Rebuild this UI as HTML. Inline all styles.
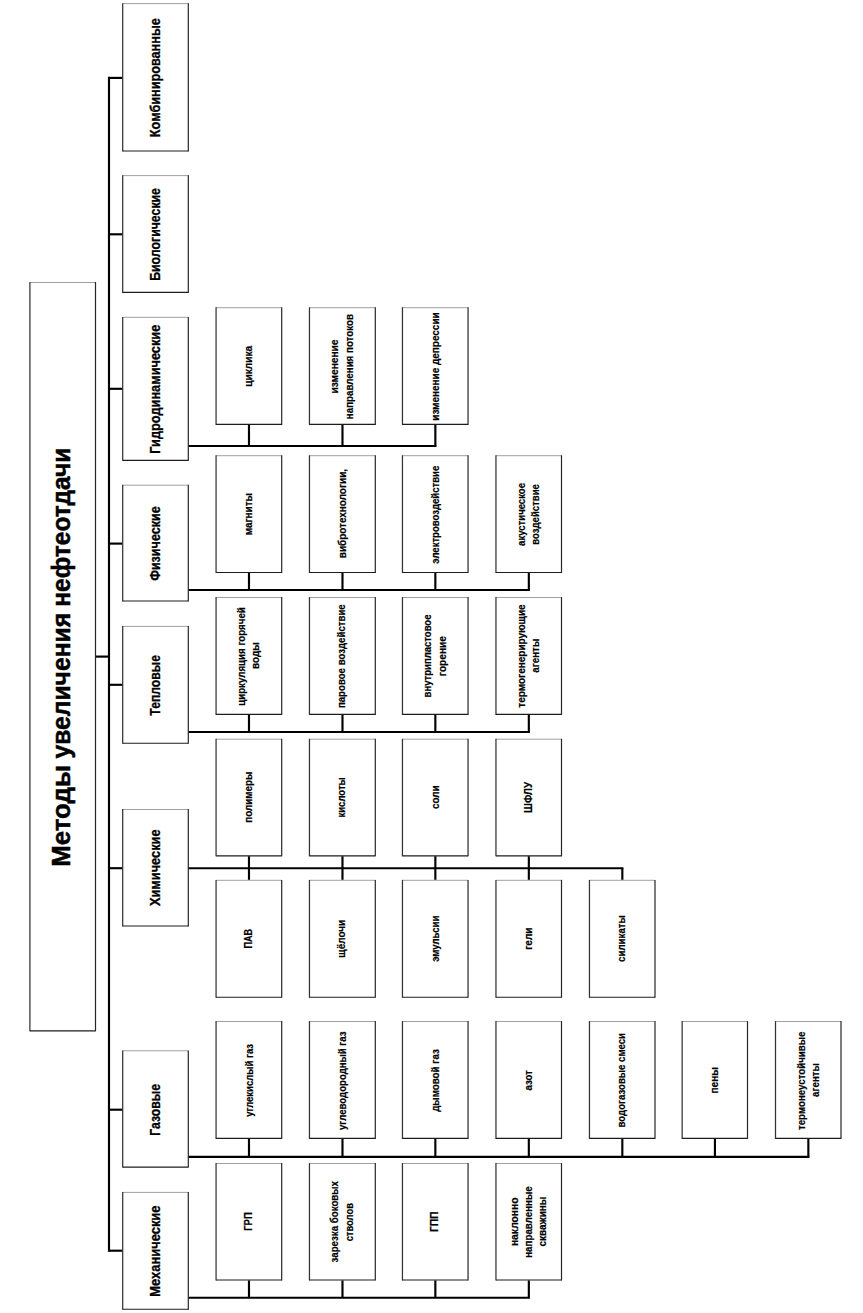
<!DOCTYPE html>
<html lang="ru">
<head>
<meta charset="utf-8">
<title>Методы увеличения нефтеотдачи</title>
<style>
html,body{margin:0;padding:0;background:#fff;}
body{width:863px;height:1313px;overflow:hidden;}
svg{display:block;}
text{font-family:"Liberation Sans",sans-serif;fill:#000;}
.tt{font-size:26.2px;font-weight:bold;stroke:#000;stroke-width:0.5px;}
.ct{font-size:14.2px;font-weight:bold;stroke:#000;stroke-width:0.3px;}
.st{font-size:10.5px;font-weight:bold;stroke:#000;stroke-width:0.2px;}
path{fill:none;}
</style>
</head>
<body>
<svg width="863" height="1313" viewBox="0 0 863 1313">
<rect x="0" y="0" width="863" height="1313" fill="#fff"/>
<path d="M29.90 282.50H95.50" stroke="#a0a0a0" stroke-width="1.0"/>
<path d="M29.90 282.10V1031.30" stroke="#333" stroke-width="1.25"/>
<path d="M95.50 282.10V1031.30" stroke="#262626" stroke-width="1.2"/>
<path d="M29.90 1030.80H95.50" stroke="#1c1c1c" stroke-width="1.15"/>
<text class="tt" transform="translate(70.30 866.73) rotate(-90) scale(0.9855 1)">Методы</text>
<text class="tt" transform="translate(70.30 758.49) rotate(-90) scale(0.9420 1)">увеличения</text>
<text class="tt" transform="translate(70.30 606.71) rotate(-90) scale(0.9351 1)">нефтеотдачи</text>
<path d="M109.00 76.83L109.00 1251.78" stroke="#000" stroke-width="2.15"/>
<path d="M96.00 656.60L109.00 656.60" stroke="#000" stroke-width="2.15"/>
<path d="M109.00 77.90L122.30 77.90" stroke="#000" stroke-width="2.15"/>
<path d="M122.70 3.60H188.30" stroke="#a0a0a0" stroke-width="1.0"/>
<path d="M122.70 3.20V151.50" stroke="#333" stroke-width="1.25"/>
<path d="M188.30 3.20V151.50" stroke="#262626" stroke-width="1.2"/>
<path d="M122.70 151.00H188.30" stroke="#1c1c1c" stroke-width="1.15"/>
<text class="ct" transform="translate(160.20 137.15) rotate(-90) scale(0.8937 1)">Комбинированные</text>
<path d="M109.00 234.30L122.30 234.30" stroke="#000" stroke-width="2.15"/>
<path d="M122.70 175.60H188.30" stroke="#a0a0a0" stroke-width="1.0"/>
<path d="M122.70 175.20V292.90" stroke="#333" stroke-width="1.25"/>
<path d="M188.30 175.20V292.90" stroke="#262626" stroke-width="1.2"/>
<path d="M122.70 292.40H188.30" stroke="#1c1c1c" stroke-width="1.15"/>
<text class="ct" transform="translate(160.20 280.82) rotate(-90) scale(0.8684 1)">Биологические</text>
<path d="M109.00 388.80L122.30 388.80" stroke="#000" stroke-width="2.15"/>
<path d="M122.70 317.30H188.30" stroke="#a0a0a0" stroke-width="1.0"/>
<path d="M122.70 316.90V460.80" stroke="#333" stroke-width="1.25"/>
<path d="M188.30 316.90V460.80" stroke="#262626" stroke-width="1.2"/>
<path d="M122.70 460.30H188.30" stroke="#1c1c1c" stroke-width="1.15"/>
<text class="ct" transform="translate(160.20 453.85) rotate(-90) scale(0.8990 1)">Гидродинамические</text>
<path d="M109.00 543.60L122.30 543.60" stroke="#000" stroke-width="2.15"/>
<path d="M122.70 485.20H188.30" stroke="#a0a0a0" stroke-width="1.0"/>
<path d="M122.70 484.80V601.50" stroke="#333" stroke-width="1.25"/>
<path d="M188.30 484.80V601.50" stroke="#262626" stroke-width="1.2"/>
<path d="M122.70 601.00H188.30" stroke="#1c1c1c" stroke-width="1.15"/>
<text class="ct" transform="translate(160.20 580.84) rotate(-90) scale(0.8858 1)">Физические</text>
<path d="M109.00 684.80L122.30 684.80" stroke="#000" stroke-width="2.15"/>
<path d="M122.70 626.40H188.30" stroke="#a0a0a0" stroke-width="1.0"/>
<path d="M122.70 626.00V743.70" stroke="#333" stroke-width="1.25"/>
<path d="M188.30 626.00V743.70" stroke="#262626" stroke-width="1.2"/>
<path d="M122.70 743.20H188.30" stroke="#1c1c1c" stroke-width="1.15"/>
<text class="ct" transform="translate(160.20 715.64) rotate(-90) scale(0.8569 1)">Тепловые</text>
<path d="M109.00 868.20L122.30 868.20" stroke="#000" stroke-width="2.15"/>
<path d="M122.70 809.50H188.30" stroke="#a0a0a0" stroke-width="1.0"/>
<path d="M122.70 809.10V926.50" stroke="#333" stroke-width="1.25"/>
<path d="M188.30 809.10V926.50" stroke="#262626" stroke-width="1.2"/>
<path d="M122.70 926.00H188.30" stroke="#1c1c1c" stroke-width="1.15"/>
<text class="ct" transform="translate(160.20 906.11) rotate(-90) scale(0.9019 1)">Химические</text>
<path d="M109.00 1109.70L122.30 1109.70" stroke="#000" stroke-width="2.15"/>
<path d="M122.70 1050.80H188.30" stroke="#a0a0a0" stroke-width="1.0"/>
<path d="M122.70 1050.40V1167.60" stroke="#333" stroke-width="1.25"/>
<path d="M188.30 1050.40V1167.60" stroke="#262626" stroke-width="1.2"/>
<path d="M122.70 1167.10H188.30" stroke="#1c1c1c" stroke-width="1.15"/>
<text class="ct" transform="translate(160.20 1135.82) rotate(-90) scale(0.8644 1)">Газовые</text>
<path d="M109.00 1250.70L122.30 1250.70" stroke="#000" stroke-width="2.15"/>
<path d="M122.70 1192.40H188.30" stroke="#a0a0a0" stroke-width="1.0"/>
<path d="M122.70 1192.00V1309.70" stroke="#333" stroke-width="1.25"/>
<path d="M188.30 1192.00V1309.70" stroke="#262626" stroke-width="1.2"/>
<path d="M122.70 1309.20H188.30" stroke="#1c1c1c" stroke-width="1.15"/>
<text class="ct" transform="translate(160.20 1296.76) rotate(-90) scale(0.9106 1)">Механические</text>
<path d="M248.98 424.80L248.98 446.00" stroke="#000" stroke-width="2.15"/>
<path d="M342.48 424.80L342.48 446.00" stroke="#000" stroke-width="2.15"/>
<path d="M435.35 424.80L435.35 446.00" stroke="#000" stroke-width="2.15"/>
<path d="M188.70 446.00L436.43 446.00" stroke="#000" stroke-width="2.15"/>
<path d="M248.98 572.90L248.98 589.95" stroke="#000" stroke-width="2.15"/>
<path d="M342.48 572.90L342.48 589.95" stroke="#000" stroke-width="2.15"/>
<path d="M435.35 572.90L435.35 589.95" stroke="#000" stroke-width="2.15"/>
<path d="M528.83 572.90L528.83 589.95" stroke="#000" stroke-width="2.15"/>
<path d="M188.70 589.95L529.90 589.95" stroke="#000" stroke-width="2.15"/>
<path d="M248.98 714.80L248.98 732.00" stroke="#000" stroke-width="2.15"/>
<path d="M342.48 714.80L342.48 732.00" stroke="#000" stroke-width="2.15"/>
<path d="M435.35 714.80L435.35 732.00" stroke="#000" stroke-width="2.15"/>
<path d="M528.83 714.80L528.83 732.00" stroke="#000" stroke-width="2.15"/>
<path d="M188.70 732.00L529.90 732.00" stroke="#000" stroke-width="2.15"/>
<path d="M248.98 1138.80L248.98 1156.90" stroke="#000" stroke-width="2.15"/>
<path d="M342.48 1138.80L342.48 1156.90" stroke="#000" stroke-width="2.15"/>
<path d="M435.35 1138.80L435.35 1156.90" stroke="#000" stroke-width="2.15"/>
<path d="M528.83 1138.80L528.83 1156.90" stroke="#000" stroke-width="2.15"/>
<path d="M622.33 1138.80L622.33 1156.90" stroke="#000" stroke-width="2.15"/>
<path d="M714.93 1138.80L714.93 1156.90" stroke="#000" stroke-width="2.15"/>
<path d="M808.35 1138.80L808.35 1156.90" stroke="#000" stroke-width="2.15"/>
<path d="M188.70 1156.90L809.43 1156.90" stroke="#000" stroke-width="2.15"/>
<path d="M248.98 1280.40L248.98 1297.70" stroke="#000" stroke-width="2.15"/>
<path d="M342.48 1280.40L342.48 1297.70" stroke="#000" stroke-width="2.15"/>
<path d="M435.35 1280.40L435.35 1297.70" stroke="#000" stroke-width="2.15"/>
<path d="M528.83 1280.40L528.83 1297.70" stroke="#000" stroke-width="2.15"/>
<path d="M188.70 1297.70L529.90 1297.70" stroke="#000" stroke-width="2.15"/>
<path d="M248.98 856.20L248.98 868.20" stroke="#000" stroke-width="2.15"/>
<path d="M342.48 856.20L342.48 868.20" stroke="#000" stroke-width="2.15"/>
<path d="M435.35 856.20L435.35 868.20" stroke="#000" stroke-width="2.15"/>
<path d="M528.83 856.20L528.83 868.20" stroke="#000" stroke-width="2.15"/>
<path d="M248.98 868.20L248.98 879.90" stroke="#000" stroke-width="2.15"/>
<path d="M342.48 868.20L342.48 879.90" stroke="#000" stroke-width="2.15"/>
<path d="M435.35 868.20L435.35 879.90" stroke="#000" stroke-width="2.15"/>
<path d="M528.83 868.20L528.83 879.90" stroke="#000" stroke-width="2.15"/>
<path d="M622.33 868.20L622.33 879.90" stroke="#000" stroke-width="2.15"/>
<path d="M188.70 868.20L623.40 868.20" stroke="#000" stroke-width="2.15"/>
<path d="M216.07 307.70H281.70" stroke="#a0a0a0" stroke-width="1.0"/>
<path d="M216.07 307.30V424.90" stroke="#333" stroke-width="1.25"/>
<path d="M281.70 307.30V424.90" stroke="#262626" stroke-width="1.2"/>
<path d="M216.07 424.40H281.70" stroke="#1c1c1c" stroke-width="1.15"/>
<text class="st" transform="translate(252.40 386.81) rotate(-90) scale(0.9672 1)">циклика</text>
<path d="M309.45 307.70H375.30" stroke="#a0a0a0" stroke-width="1.0"/>
<path d="M309.45 307.30V424.90" stroke="#333" stroke-width="1.25"/>
<path d="M375.30 307.30V424.90" stroke="#262626" stroke-width="1.2"/>
<path d="M309.45 424.40H375.30" stroke="#1c1c1c" stroke-width="1.15"/>
<text class="st" transform="translate(338.40 393.50) rotate(-90) scale(0.9671 1)">изменение</text>
<text class="st" transform="translate(353.40 419.18) rotate(-90) scale(0.9293 1)">направления потоков</text>
<path d="M402.45 307.70H468.05" stroke="#a0a0a0" stroke-width="1.0"/>
<path d="M402.45 307.30V424.90" stroke="#333" stroke-width="1.25"/>
<path d="M468.05 307.30V424.90" stroke="#262626" stroke-width="1.2"/>
<path d="M402.45 424.40H468.05" stroke="#1c1c1c" stroke-width="1.15"/>
<text class="st" transform="translate(438.50 420.69) rotate(-90) scale(0.9492 1)">изменение депрессии</text>
<path d="M216.07 455.70H281.70" stroke="#a0a0a0" stroke-width="1.0"/>
<path d="M216.07 455.30V573.00" stroke="#333" stroke-width="1.25"/>
<path d="M281.70 455.30V573.00" stroke="#262626" stroke-width="1.2"/>
<path d="M216.07 572.50H281.70" stroke="#1c1c1c" stroke-width="1.15"/>
<text class="st" transform="translate(252.40 535.29) rotate(-90) scale(0.9466 1)">магниты</text>
<path d="M309.45 455.70H375.30" stroke="#a0a0a0" stroke-width="1.0"/>
<path d="M309.45 455.30V573.00" stroke="#333" stroke-width="1.25"/>
<path d="M375.30 455.30V573.00" stroke="#262626" stroke-width="1.2"/>
<path d="M309.45 572.50H375.30" stroke="#1c1c1c" stroke-width="1.15"/>
<text class="st" transform="translate(345.60 558.19) rotate(-90) scale(0.9461 1)">вибротехнологии,</text>
<path d="M402.45 455.70H468.05" stroke="#a0a0a0" stroke-width="1.0"/>
<path d="M402.45 455.30V573.00" stroke="#333" stroke-width="1.25"/>
<path d="M468.05 455.30V573.00" stroke="#262626" stroke-width="1.2"/>
<path d="M402.45 572.50H468.05" stroke="#1c1c1c" stroke-width="1.15"/>
<text class="st" transform="translate(438.70 563.64) rotate(-90) scale(0.9110 1)">электровоздействие</text>
<path d="M495.95 455.70H561.50" stroke="#a0a0a0" stroke-width="1.0"/>
<path d="M495.95 455.30V573.00" stroke="#333" stroke-width="1.25"/>
<path d="M561.50 455.30V573.00" stroke="#262626" stroke-width="1.2"/>
<path d="M495.95 572.50H561.50" stroke="#1c1c1c" stroke-width="1.15"/>
<text class="st" transform="translate(524.60 545.88) rotate(-90) scale(0.9103 1)">акустическое</text>
<text class="st" transform="translate(539.20 544.67) rotate(-90) scale(0.9119 1)">воздействие</text>
<path d="M216.07 597.50H281.70" stroke="#a0a0a0" stroke-width="1.0"/>
<path d="M216.07 597.10V714.90" stroke="#333" stroke-width="1.25"/>
<path d="M281.70 597.10V714.90" stroke="#262626" stroke-width="1.2"/>
<path d="M216.07 714.40H281.70" stroke="#1c1c1c" stroke-width="1.15"/>
<text class="st" transform="translate(245.10 705.78) rotate(-90) scale(0.9277 1)">циркуляция горячей</text>
<text class="st" transform="translate(259.30 668.89) rotate(-90) scale(0.9469 1)">воды</text>
<path d="M309.45 597.50H375.30" stroke="#a0a0a0" stroke-width="1.0"/>
<path d="M309.45 597.10V714.90" stroke="#333" stroke-width="1.25"/>
<path d="M375.30 597.10V714.90" stroke="#262626" stroke-width="1.2"/>
<path d="M309.45 714.40H375.30" stroke="#1c1c1c" stroke-width="1.15"/>
<text class="st" transform="translate(345.40 708.07) rotate(-90) scale(0.9188 1)">паровое воздействие</text>
<path d="M402.45 597.50H468.05" stroke="#a0a0a0" stroke-width="1.0"/>
<path d="M402.45 597.10V714.90" stroke="#333" stroke-width="1.25"/>
<path d="M468.05 597.10V714.90" stroke="#262626" stroke-width="1.2"/>
<path d="M402.45 714.40H468.05" stroke="#1c1c1c" stroke-width="1.15"/>
<text class="st" transform="translate(431.10 697.47) rotate(-90) scale(0.9082 1)">внутрипластовое</text>
<text class="st" transform="translate(445.70 676.21) rotate(-90) scale(0.9659 1)">горение</text>
<path d="M495.95 597.50H561.50" stroke="#a0a0a0" stroke-width="1.0"/>
<path d="M495.95 597.10V714.90" stroke="#333" stroke-width="1.25"/>
<path d="M561.50 597.10V714.90" stroke="#262626" stroke-width="1.2"/>
<path d="M495.95 714.40H561.50" stroke="#1c1c1c" stroke-width="1.15"/>
<text class="st" transform="translate(524.80 707.68) rotate(-90) scale(0.9506 1)">термогенерирующие</text>
<text class="st" transform="translate(539.20 672.69) rotate(-90) scale(0.9305 1)">агенты</text>
<path d="M216.07 739.20H281.70" stroke="#a0a0a0" stroke-width="1.0"/>
<path d="M216.07 738.80V856.30" stroke="#333" stroke-width="1.25"/>
<path d="M281.70 738.80V856.30" stroke="#262626" stroke-width="1.2"/>
<path d="M216.07 855.80H281.70" stroke="#1c1c1c" stroke-width="1.15"/>
<text class="st" transform="translate(252.40 822.79) rotate(-90) scale(0.9382 1)">полимеры</text>
<path d="M309.45 739.20H375.30" stroke="#a0a0a0" stroke-width="1.0"/>
<path d="M309.45 738.80V856.30" stroke="#333" stroke-width="1.25"/>
<path d="M375.30 738.80V856.30" stroke="#262626" stroke-width="1.2"/>
<path d="M309.45 855.80H375.30" stroke="#1c1c1c" stroke-width="1.15"/>
<text class="st" transform="translate(345.40 817.56) rotate(-90) scale(0.9103 1)">кислоты</text>
<path d="M402.45 739.20H468.05" stroke="#a0a0a0" stroke-width="1.0"/>
<path d="M402.45 738.80V856.30" stroke="#333" stroke-width="1.25"/>
<path d="M468.05 738.80V856.30" stroke="#262626" stroke-width="1.2"/>
<path d="M402.45 855.80H468.05" stroke="#1c1c1c" stroke-width="1.15"/>
<text class="st" transform="translate(438.80 808.99) rotate(-90) scale(0.9406 1)">соли</text>
<path d="M495.95 739.20H561.50" stroke="#a0a0a0" stroke-width="1.0"/>
<path d="M495.95 738.80V856.30" stroke="#333" stroke-width="1.25"/>
<path d="M561.50 738.80V856.30" stroke="#262626" stroke-width="1.2"/>
<path d="M495.95 855.80H561.50" stroke="#1c1c1c" stroke-width="1.15"/>
<text class="st" transform="translate(532.10 812.96) rotate(-90) scale(0.9419 1)">ШФЛУ</text>
<path d="M216.07 880.30H281.70" stroke="#a0a0a0" stroke-width="1.0"/>
<path d="M216.07 879.90V997.70" stroke="#333" stroke-width="1.25"/>
<path d="M281.70 879.90V997.70" stroke="#262626" stroke-width="1.2"/>
<path d="M216.07 997.20H281.70" stroke="#1c1c1c" stroke-width="1.15"/>
<text class="st" transform="translate(252.40 948.61) rotate(-90) scale(0.8684 1)">ПАВ</text>
<path d="M309.45 880.30H375.30" stroke="#a0a0a0" stroke-width="1.0"/>
<path d="M309.45 879.90V997.70" stroke="#333" stroke-width="1.25"/>
<path d="M375.30 879.90V997.70" stroke="#262626" stroke-width="1.2"/>
<path d="M309.45 997.20H375.30" stroke="#1c1c1c" stroke-width="1.15"/>
<text class="st" transform="translate(345.40 957.70) rotate(-90) scale(0.9493 1)">щёлочи</text>
<path d="M402.45 880.30H468.05" stroke="#a0a0a0" stroke-width="1.0"/>
<path d="M402.45 879.90V997.70" stroke="#333" stroke-width="1.25"/>
<path d="M468.05 879.90V997.70" stroke="#262626" stroke-width="1.2"/>
<path d="M402.45 997.20H468.05" stroke="#1c1c1c" stroke-width="1.15"/>
<text class="st" transform="translate(438.80 961.84) rotate(-90) scale(0.9088 1)">эмульсии</text>
<path d="M495.95 880.30H561.50" stroke="#a0a0a0" stroke-width="1.0"/>
<path d="M495.95 879.90V997.70" stroke="#333" stroke-width="1.25"/>
<path d="M561.50 879.90V997.70" stroke="#262626" stroke-width="1.2"/>
<path d="M495.95 997.20H561.50" stroke="#1c1c1c" stroke-width="1.15"/>
<text class="st" transform="translate(532.00 949.80) rotate(-90) scale(0.9554 1)">гели</text>
<path d="M589.45 880.30H655.00" stroke="#a0a0a0" stroke-width="1.0"/>
<path d="M589.45 879.90V997.70" stroke="#333" stroke-width="1.25"/>
<path d="M655.00 879.90V997.70" stroke="#262626" stroke-width="1.2"/>
<path d="M589.45 997.20H655.00" stroke="#1c1c1c" stroke-width="1.15"/>
<text class="st" transform="translate(625.00 961.98) rotate(-90) scale(0.9276 1)">силикаты</text>
<path d="M216.07 1021.50H281.70" stroke="#a0a0a0" stroke-width="1.0"/>
<path d="M216.07 1021.10V1138.90" stroke="#333" stroke-width="1.25"/>
<path d="M281.70 1021.10V1138.90" stroke="#262626" stroke-width="1.2"/>
<path d="M216.07 1138.40H281.70" stroke="#1c1c1c" stroke-width="1.15"/>
<text class="st" transform="translate(252.60 1116.87) rotate(-90) scale(0.9069 1)">углекислый газ</text>
<path d="M309.45 1021.50H375.30" stroke="#a0a0a0" stroke-width="1.0"/>
<path d="M309.45 1021.10V1138.90" stroke="#333" stroke-width="1.25"/>
<path d="M375.30 1021.10V1138.90" stroke="#262626" stroke-width="1.2"/>
<path d="M309.45 1138.40H375.30" stroke="#1c1c1c" stroke-width="1.15"/>
<text class="st" transform="translate(345.60 1129.98) rotate(-90) scale(0.9180 1)">углеводородный газ</text>
<path d="M402.45 1021.50H468.05" stroke="#a0a0a0" stroke-width="1.0"/>
<path d="M402.45 1021.10V1138.90" stroke="#333" stroke-width="1.25"/>
<path d="M468.05 1021.10V1138.90" stroke="#262626" stroke-width="1.2"/>
<path d="M402.45 1138.40H468.05" stroke="#1c1c1c" stroke-width="1.15"/>
<text class="st" transform="translate(438.80 1111.87) rotate(-90) scale(0.9335 1)">дымовой газ</text>
<path d="M495.95 1021.50H561.50" stroke="#a0a0a0" stroke-width="1.0"/>
<path d="M495.95 1021.10V1138.90" stroke="#333" stroke-width="1.25"/>
<path d="M561.50 1021.10V1138.90" stroke="#262626" stroke-width="1.2"/>
<path d="M495.95 1138.40H561.50" stroke="#1c1c1c" stroke-width="1.15"/>
<text class="st" transform="translate(532.20 1090.58) rotate(-90) scale(0.9176 1)">азот</text>
<path d="M589.45 1021.50H655.00" stroke="#a0a0a0" stroke-width="1.0"/>
<path d="M589.45 1021.10V1138.90" stroke="#333" stroke-width="1.25"/>
<path d="M655.00 1021.10V1138.90" stroke="#262626" stroke-width="1.2"/>
<path d="M589.45 1138.40H655.00" stroke="#1c1c1c" stroke-width="1.15"/>
<text class="st" transform="translate(624.80 1127.47) rotate(-90) scale(0.9164 1)">водогазовые смеси</text>
<path d="M682.15 1021.50H747.50" stroke="#a0a0a0" stroke-width="1.0"/>
<path d="M682.15 1021.10V1138.90" stroke="#333" stroke-width="1.25"/>
<path d="M747.50 1021.10V1138.90" stroke="#262626" stroke-width="1.2"/>
<path d="M682.15 1138.40H747.50" stroke="#1c1c1c" stroke-width="1.15"/>
<text class="st" transform="translate(718.20 1093.50) rotate(-90) scale(0.9606 1)">пены</text>
<path d="M775.50 1021.50H841.00" stroke="#a0a0a0" stroke-width="1.0"/>
<path d="M775.50 1021.10V1138.90" stroke="#333" stroke-width="1.25"/>
<path d="M841.00 1021.10V1138.90" stroke="#262626" stroke-width="1.2"/>
<path d="M775.50 1138.40H841.00" stroke="#1c1c1c" stroke-width="1.15"/>
<text class="st" transform="translate(804.60 1130.08) rotate(-90) scale(0.9277 1)">термонеустойчивые</text>
<text class="st" transform="translate(818.80 1096.88) rotate(-90) scale(0.9249 1)">агенты</text>
<path d="M216.07 1163.50H281.70" stroke="#a0a0a0" stroke-width="1.0"/>
<path d="M216.07 1163.10V1280.50" stroke="#333" stroke-width="1.25"/>
<path d="M281.70 1163.10V1280.50" stroke="#262626" stroke-width="1.2"/>
<path d="M216.07 1280.00H281.70" stroke="#1c1c1c" stroke-width="1.15"/>
<text class="st" transform="translate(252.10 1230.84) rotate(-90) scale(0.9059 1)">ГРП</text>
<path d="M309.45 1163.50H375.30" stroke="#a0a0a0" stroke-width="1.0"/>
<path d="M309.45 1163.10V1280.50" stroke="#333" stroke-width="1.25"/>
<path d="M375.30 1163.10V1280.50" stroke="#262626" stroke-width="1.2"/>
<path d="M309.45 1280.00H375.30" stroke="#1c1c1c" stroke-width="1.15"/>
<text class="st" transform="translate(338.40 1262.45) rotate(-90) scale(0.9247 1)">зарезка боковых</text>
<text class="st" transform="translate(353.40 1241.37) rotate(-90) scale(0.8950 1)">стволов</text>
<path d="M402.45 1163.50H468.05" stroke="#a0a0a0" stroke-width="1.0"/>
<path d="M402.45 1163.10V1280.50" stroke="#333" stroke-width="1.25"/>
<path d="M468.05 1163.10V1280.50" stroke="#262626" stroke-width="1.2"/>
<path d="M402.45 1280.00H468.05" stroke="#1c1c1c" stroke-width="1.15"/>
<text class="st" transform="translate(438.00 1232.08) rotate(-90) scale(0.9724 1)">ГПП</text>
<path d="M495.95 1163.50H561.50" stroke="#a0a0a0" stroke-width="1.0"/>
<path d="M495.95 1163.10V1280.50" stroke="#333" stroke-width="1.25"/>
<path d="M561.50 1163.10V1280.50" stroke="#262626" stroke-width="1.2"/>
<path d="M495.95 1280.00H561.50" stroke="#1c1c1c" stroke-width="1.15"/>
<text class="st" transform="translate(517.60 1246.12) rotate(-90) scale(0.9840 1)">наклонно</text>
<text class="st" transform="translate(532.30 1257.78) rotate(-90) scale(0.9299 1)">направленные</text>
<text class="st" transform="translate(546.20 1246.59) rotate(-90) scale(0.9523 1)">скважины</text>
</svg>
</body>
</html>
